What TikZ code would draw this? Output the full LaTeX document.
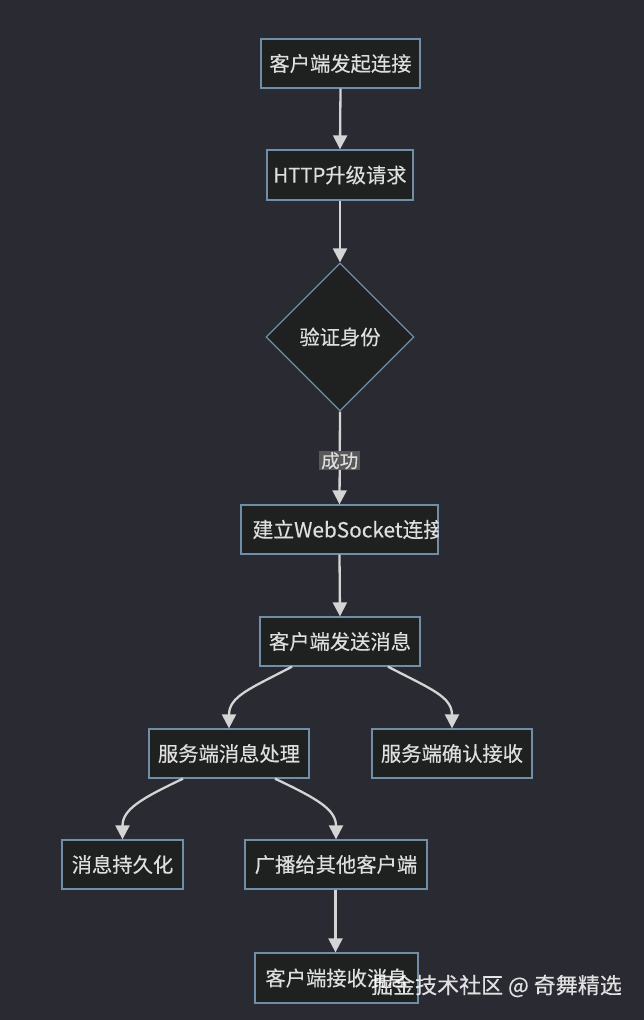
\documentclass[tikz,border=0pt]{standalone}
\usepackage{fontspec}
\setmainfont{Noto Sans CJK SC}[FakeBold=0.3]
\usetikzlibrary{shapes.geometric,arrows.meta}
\definecolor{bg}{RGB}{42,42,50}
\definecolor{nodefill}{RGB}{31,32,32}
\definecolor{nodestroke}{RGB}{112,142,170}
\definecolor{txtc}{RGB}{222,222,222}
\definecolor{edgec}{RGB}{212,212,212}
\definecolor{lblfill}{RGB}{88,88,88}
\tikzset{
  box/.style={draw=nodestroke, fill=nodefill, line width=1.3pt, text=txtc,
    font=\fontsize{20.3}{24}\selectfont, minimum height=49pt, inner sep=0pt},
  dia/.style={diamond, aspect=1, draw=nodestroke, fill=nodefill, line width=1.3pt,
    text=txtc, font=\fontsize{20.3}{24}\selectfont, minimum width=148pt, minimum height=148pt, inner sep=0pt},
  txt/.style={text=txtc, font=\fontsize{20.8}{24}\selectfont, inner sep=0pt},
  edge/.style={draw=edgec, line width=2.3pt, -{Triangle[width=14pt,length=14pt]}},
  lbl/.style={fill=lblfill, text=txtc, font=\fontsize{18.5}{22}\selectfont, inner xsep=2pt, inner ysep=1pt},
  wm/.style={text=white, opacity=0.85, font=\fontsize{22}{26}\selectfont, inner sep=0pt}
}
\begin{document}
\begin{tikzpicture}[x=1pt,y=-1pt]
\fill[bg] (0,0) rectangle (644,1020);
\useasboundingbox (0,0) rectangle (644,1020);

\node[box, minimum width=159pt] (n1) at (340.5,63.5) {客户端发起连接};
\node[box, minimum width=146pt, minimum height=50pt] (n2) at (340,175) {HTTP升级请求};
\node[dia] (n3) at (340,337) {验证身份};
\node[box, minimum width=197pt] (n4) at (339.5,529.5) {};
\begin{scope}
  \clip (n4.south west) rectangle (n4.north east);
  \node[txt, anchor=west] (n4t) at ([xshift=12pt]n4.west) {建立WebSocket连接};
\end{scope}
\node[box, minimum width=160pt] (n5) at (340,641.5) {客户端发送消息};
\node[box, minimum width=160pt] (n6) at (229,753.5) {服务端消息处理};
\node[box, minimum width=160pt] (n7) at (452,753.5) {服务端确认接收};
\node[box, minimum width=121pt] (n8) at (122.5,864.5) {消息持久化};
\node[box, minimum width=182pt] (n9) at (336,864.5) {广播给其他客户端};
\node[box, minimum width=163pt, minimum height=50pt] (n10) at (336.5,978) {客户端接收消息};

\draw[edge] (n1.south) -- (n2.north);
\draw[edge] (n2.south) -- (n3.north);
\draw[edge] (n3.south) -- node[lbl, pos=0.53] (l1) {成功} (n4.north);
\draw[edge] (n4.south) -- (n5.north);
\draw[edge] ([xshift=-48pt]n5.south) .. controls +(-42,22) and +(0,-32) .. (n6.north);
\draw[edge] ([xshift=48pt]n5.south) .. controls +(42,22) and +(0,-32) .. (n7.north);
\draw[edge] ([xshift=-46pt]n6.south) .. controls +(-42,20) and +(0,-30) .. (n8.north);
\draw[edge] ([xshift=46pt]n6.south) .. controls +(42,20) and +(0,-30) .. (n9.north);
\draw[edge] ([xshift=-0.5pt]n9.south) -- ([xshift=-1pt]n10.north);

\node[wm, anchor=east] (wm) at (622,986) {掘金技术社区 @ 奇舞精选};
\end{tikzpicture}
\end{document}
